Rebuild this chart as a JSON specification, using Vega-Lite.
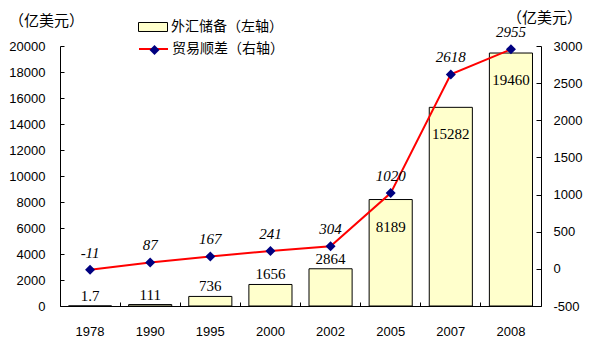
{
  "$schema": "https://vega.github.io/schema/vega-lite/v6.json",
  "width": 481,
  "height": 260,
  "autosize": {"type": "none"},
  "padding": {"left": 60, "top": 46, "right": 53, "bottom": 45},
  "background": "white",
  "config": {
    "view": {"stroke": null},
    "axis": {"grid": false, "domainColor": "black", "tickColor": "black", "labelColor": "black", "labelFont": "Liberation Sans", "labelFontSize": 13, "labelFontWeight": "normal", "labelOverlap": false, "domainWidth": 1, "tickWidth": 1},
    "legend": {"padding": 0, "labelFont": "Noto Sans CJK SC", "labelFontSize": 14, "labelColor": "black", "labelOffset": 3}
  },
  "data": {"values": [
    {"year": "1978", "reserve": 1.7, "trade": -11},
    {"year": "1990", "reserve": 111, "trade": 87},
    {"year": "1995", "reserve": 736, "trade": 167},
    {"year": "2000", "reserve": 1656, "trade": 241},
    {"year": "2002", "reserve": 2864, "trade": 304},
    {"year": "2005", "reserve": 8189, "trade": 1020},
    {"year": "2007", "reserve": 15282, "trade": 2618},
    {"year": "2008", "reserve": 19460, "trade": 2955}
  ]},
  "encoding": {
    "x": {"field": "year", "type": "ordinal", "sort": null,
      "scale": {"paddingInner": 0, "paddingOuter": 0},
      "axis": {"title": null, "labelAngle": 0, "bandPosition": 0, "tickSize": -4, "labelPadding": 23}}
  },
  "layer": [
    {
      "encoding": {
        "y": {"field": "reserve", "type": "quantitative",
          "scale": {"domain": [0, 20000], "nice": false, "zero": true},
          "axis": {"orient": "left", "values": [0, 2000, 4000, 6000, 8000, 10000, 12000, 14000, 16000, 18000, 20000],
            "labelExpr": "'' + datum.value", "tickSize": -4, "labelPadding": 19, "labelOverlap": false, "labelBound": false, "labelFlush": false,
            "title": "（亿美元）", "titleAngle": 0, "titleX": -14, "titleY": -26, "titleAlign": "center", "titleBaseline": "middle",
            "titleFont": "Noto Sans CJK SC", "titleFontSize": 15, "titleFontWeight": "normal", "titleColor": "black"}}
      },
      "layer": [
        {
          "mark": {"type": "bar", "width": {"band": 0.717}, "stroke": "black", "strokeWidth": 1},
          "encoding": {
            "fill": {"datum": "外汇储备（左轴）", "scale": {"range": ["#FFFFCC"]},
              "legend": {"orient": "none", "legendX": 78, "legendY": -34, "title": null,
                "symbolType": "M-1,-0.31H1V0.31H-1Z", "symbolSize": 841, "symbolStrokeColor": "black", "symbolStrokeWidth": 1, "symbolFillColor": "#FFFFCC"}}
          }
        },
        {
          "transform": [{"filter": "datum.reserve > 5000"}],
          "mark": {"type": "text", "dy": 27, "font": "Liberation Serif", "fontSize": 15, "color": "black", "baseline": "middle"},
          "encoding": {"text": {"field": "reserve", "type": "nominal"}}
        },
        {
          "transform": [{"filter": "datum.reserve <= 5000"}],
          "mark": {"type": "text", "dy": -10, "font": "Liberation Serif", "fontSize": 15, "color": "black", "baseline": "middle"},
          "encoding": {"text": {"field": "reserve", "type": "nominal"}}
        }
      ]
    },
    {
      "encoding": {
        "y": {"field": "trade", "type": "quantitative",
          "scale": {"domain": [-500, 3000], "nice": false, "zero": false},
          "axis": {"orient": "right", "values": [-500, 0, 500, 1000, 1500, 2000, 2500, 3000],
            "labelExpr": "'' + datum.value", "tickSize": -5, "labelPadding": 17, "labelOverlap": false, "labelBound": false, "labelFlush": false,
            "title": "（亿美元）", "titleAngle": 0, "titleX": 3, "titleY": -29, "titleAlign": "center", "titleBaseline": "middle",
            "titleFont": "Noto Sans CJK SC", "titleFontSize": 15, "titleFontWeight": "normal", "titleColor": "black"}}
      },
      "layer": [
        {
          "mark": {"type": "line", "strokeWidth": 2},
          "encoding": {
            "stroke": {"datum": "贸易顺差（右轴）", "scale": {"range": ["#FF0000"]},
              "legend": {"orient": "none", "legendX": 78, "legendY": -12.5, "title": null,
                "symbolType": "stroke", "symbolSize": 841, "symbolStrokeWidth": 2, "symbolStrokeColor": "#FF0000"}}
          }
        },
        {
          "mark": {"type": "point", "filled": true, "color": "#000080", "size": 100, "opacity": 1},
          "encoding": {
            "shape": {"datum": "顺差点", "scale": {"range": ["diamond"]},
              "legend": {"orient": "none", "legendX": 87.5, "legendY": -3, "title": null,
                "symbolSize": 100, "symbolFillColor": "#000080", "symbolStrokeWidth": 0, "labelExpr": "''"}}
          }
        },
        {
          "mark": {"type": "text", "dy": -17, "font": "Liberation Serif", "fontStyle": "italic", "fontSize": 15, "color": "black", "baseline": "middle"},
          "encoding": {"text": {"field": "trade", "type": "nominal"}}
        }
      ]
    }
  ],
  "resolve": {"scale": {"y": "independent"}}
}
